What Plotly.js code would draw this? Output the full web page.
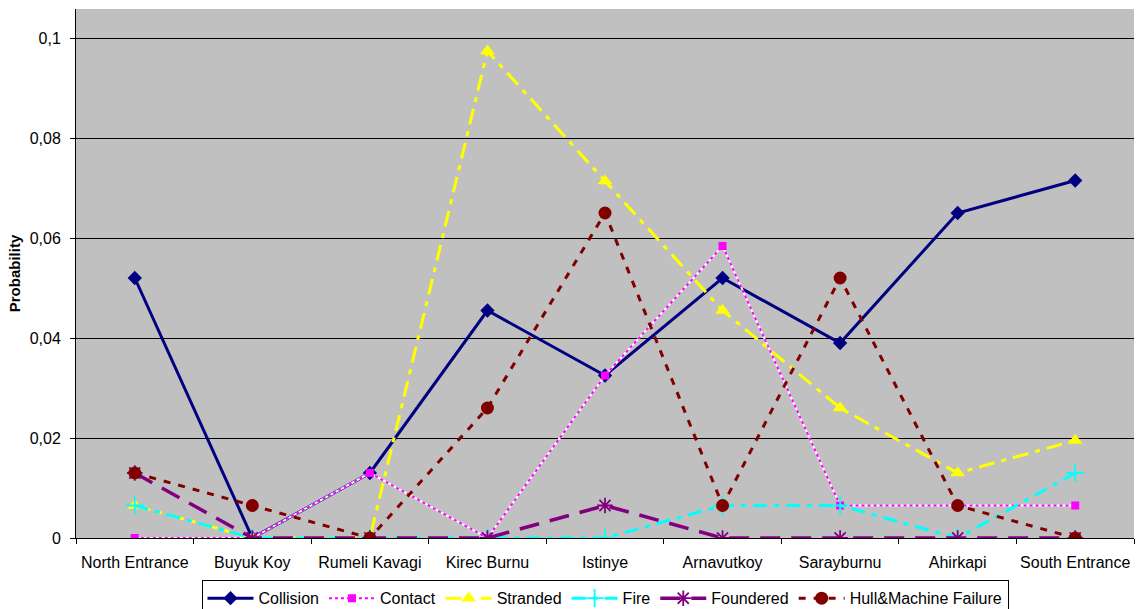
<!DOCTYPE html>
<html>
<head>
<meta charset="utf-8">
<script src="https://cdn.plot.ly/plotly-3.0.1.min.js"></script>
<style>html,body{margin:0;padding:0;background:#fff;overflow:hidden}#chart{width:1141px;height:609px}</style>
</head>
<body>
<div id="chart"></div>
<script>
const categories = ["North Entrance","Buyuk Koy","Rumeli Kavagi","Kirec Burnu","Istinye","Arnavutkoy","Sarayburnu","Ahirkapi","South Entrance"];
const collision = [0.052, 0, 0.013, 0.0455, 0.0325, 0.052, 0.039, 0.065, 0.0715];
const contact   = [0, 0, 0.013, 0, 0.0325, 0.0584, 0.0065, 0.0065, 0.0065];
const stranded  = [0.0065, 0, 0, 0.0974, 0.0714, 0.0455, 0.026, 0.013, 0.0195];
const fire      = [0.0065, 0, 0, 0, 0, 0.0065, 0.0065, 0, 0.013];
const foundered = [0.013, 0, 0, 0, 0.0065, 0, 0, 0, 0];
const hull      = [0.013, 0.0065, 0, 0.026, 0.065, 0.0065, 0.052, 0.0065, 0];
const yTicks = [0, 0.02, 0.04, 0.06, 0.08, 0.1];

const traces = [
  {name:"Collision", y:collision, line:{color:"#000080", width:3, dash:"solid"},
   marker:{symbol:"diamond", size:11, color:"#000080"}},
  {name:"Contact", y:contact, mode:"lines", showlegend:false, hoverinfo:"skip",
   line:{color:"#FFFFFF", width:2, dash:"solid"}},
  {name:"Contact", y:contact, line:{color:"#FF00FF", width:2, dash:"dot"},
   marker:{symbol:"square", size:8, color:"#FF00FF"}},
  {name:"Stranded", y:stranded, line:{color:"#FFFF00", width:3, dash:"16px,7px,5px,7px"},
   marker:{symbol:"triangle-up", size:13, color:"#FFFF00"}},
  {name:"Fire", y:fire, line:{color:"#00FFFF", width:3, dash:"14px,7px,5px,7px"},
   marker:{symbol:"cross-thin", size:13, color:"#00FFFF", line:{color:"#00FFFF", width:1.8}}},
  {name:"Foundered", y:foundered, line:{color:"#800080", width:3.5, dash:"20px,11px"},
   marker:{symbol:"asterisk", size:13, color:"#800080", line:{color:"#800080", width:1.8}}},
  {name:"Hull&Machine Failure", y:hull, line:{color:"#800000", width:3, dash:"7px,8px"},
   marker:{symbol:"circle", size:13, color:"#800000"}}
].map(t => Object.assign({type:"scatter", mode:"lines+markers", x:categories}, t));

const layout = {
  width:1141, height:609,
  margin:{l:76, r:7, t:9, b:71, pad:0, autoexpand:false},
  paper_bgcolor:"#ffffff",
  plot_bgcolor:"#C0C0C0",
  separators:",.",
  font:{family:"Liberation Sans, Arial, sans-serif", size:16, color:"#000"},
  showlegend:true,
  xaxis:{
    type:"category", range:[-0.5, 8.5], showgrid:false, zeroline:false,
    showline:true, linecolor:"#000", linewidth:1, mirror:false,
    ticks:"outside", tickson:"boundaries", ticklen:5, tickcolor:"#000",
    tickfont:{size:16}, tickangle:0, ticklabelstandoff:10
  },
  yaxis:{
    range:[0, 0.1058], tickvals:yTicks, ticktext:yTicks.map(v => String(v).replace(".", ",")),
    showgrid:true, gridcolor:"#000", gridwidth:1,
    zeroline:true, zerolinecolor:"#000", zerolinewidth:1,
    showline:true, linecolor:"#000", linewidth:1,
    ticks:"outside", ticklen:5, tickcolor:"#000",
    tickfont:{size:16}, ticklabelstandoff:6,
    title:{text:"<b>Probability</b>", font:{size:15}, standoff:5}
  },
  legend:{
    orientation:"h", x:0.5, xanchor:"center", y:-0.08, yanchor:"top",
    bgcolor:"#fff", bordercolor:"#000", borderwidth:1,
    font:{size:16}, itemwidth:46, tracegroupgap:0
  }
};

Plotly.newPlot("chart", traces, layout, {displayModeBar:false, staticPlot:true});
</script>
</body>
</html>
